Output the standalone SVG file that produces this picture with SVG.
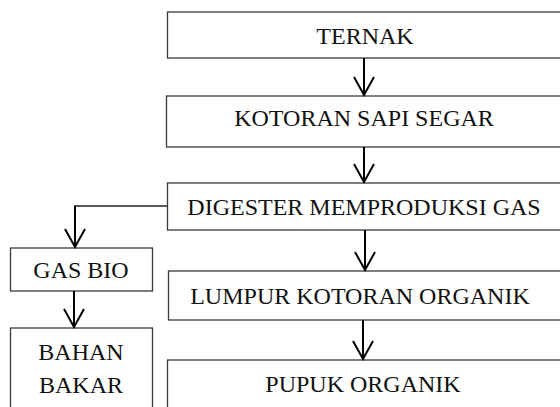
<svg xmlns="http://www.w3.org/2000/svg" width="560" height="407" viewBox="0 0 560 407">
<defs>
<style>
.box{fill:#fff;stroke:#3a3a3a;stroke-width:1.3}
.lbl{font-family:"Liberation Serif","Times New Roman",serif;font-size:24px;fill:#111;text-anchor:middle}
.arr{fill:none;stroke:#000;stroke-width:2}
.thin{fill:none;stroke:#222;stroke-width:1.3}
</style>
<marker id="ah" markerUnits="userSpaceOnUse" markerWidth="24" markerHeight="24" viewBox="-20 -12 24 24" refX="0" refY="0" orient="auto" overflow="visible">
<path d="M-18,-10 L0,0 L-18,10" fill="none" stroke="#000" stroke-width="2"/>
</marker>
</defs>
<g id="ternak"><rect class="box" x="167.5" y="12" width="420" height="46"/><text class="lbl" x="365" y="44">TERNAK</text></g>
<g id="kotoran"><rect class="box" x="166.5" y="96" width="420" height="51"/><text class="lbl" x="364" y="126">KOTORAN SAPI SEGAR</text></g>
<g id="digester"><rect class="box" x="167.5" y="183" width="420" height="47"/><text class="lbl" x="364" y="215">DIGESTER MEMPRODUKSI GAS</text></g>
<g id="lumpur"><rect class="box" x="168.5" y="271" width="420" height="49"/><text class="lbl" x="360" y="304">LUMPUR KOTORAN ORGANIK</text></g>
<g id="pupuk"><rect class="box" x="167.5" y="360" width="420" height="70"/><text class="lbl" x="363" y="392">PUPUK ORGANIK</text></g>
<g id="gasbio"><rect class="box" x="10.5" y="248" width="142" height="43"/><text class="lbl" x="81" y="278">GAS BIO</text></g>
<g id="bahanbakar"><rect class="box" x="10.5" y="328" width="142" height="90"/><text class="lbl" x="81" y="360">BAHAN</text><text class="lbl" x="81" y="393">BAKAR</text></g>
<g id="connectors">
<line class="arr" x1="364" y1="58" x2="364" y2="95" marker-end="url(#ah)"/>
<line class="arr" x1="364" y1="147" x2="364" y2="182" marker-end="url(#ah)"/>
<polyline class="thin" points="167,206 75,206"/>
<line class="arr" x1="75" y1="205.5" x2="75" y2="247" marker-end="url(#ah)"/>
<line class="arr" x1="365" y1="230" x2="365" y2="270" marker-end="url(#ah)"/>
<line class="arr" x1="363" y1="320" x2="363" y2="359" marker-end="url(#ah)"/>
<line class="arr" x1="74" y1="291" x2="74" y2="327" marker-end="url(#ah)"/>
</g>
</svg>
